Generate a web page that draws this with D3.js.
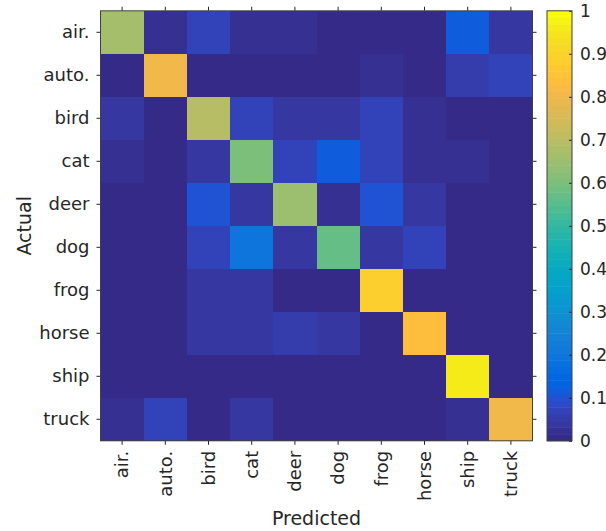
<!DOCTYPE html>
<html>
<head>
<meta charset="utf-8">
<script src="https://cdn.jsdelivr.net/npm/d3@7"></script>
<style>
  body { margin: 0; background: #fff; }
  text { font-family: "DejaVu Sans", sans-serif; fill: #262626; }
</style>
</head>
<body>
<div id="chart"></div>
<script>
// class labels (rows = actual, columns = predicted)
var classes = ["air.", "auto.", "bird", "cat", "deer", "dog", "frog", "horse", "ship", "truck"];

// normalised confusion matrix, one array per actual class
var rowAir   = [0.664, 0.020, 0.065, 0.030, 0.030, 0.010, 0.010, 0.010, 0.120, 0.035];
var rowAuto  = [0.005, 0.805, 0.005, 0.005, 0.005, 0.005, 0.025, 0.010, 0.055, 0.070];
var rowBird  = [0.040, 0.005, 0.695, 0.070, 0.040, 0.040, 0.070, 0.030, 0.010, 0.005];
var rowCat   = [0.030, 0.005, 0.045, 0.600, 0.070, 0.120, 0.070, 0.030, 0.025, 0.005];
var rowDeer  = [0.005, 0.005, 0.100, 0.045, 0.650, 0.030, 0.100, 0.040, 0.005, 0.005];
var rowDog   = [0.005, 0.005, 0.065, 0.190, 0.040, 0.570, 0.045, 0.065, 0.005, 0.005];
var rowFrog  = [0.005, 0.005, 0.040, 0.040, 0.010, 0.010, 0.885, 0.005, 0.005, 0.005];
var rowHorse = [0.005, 0.005, 0.035, 0.035, 0.055, 0.045, 0.005, 0.835, 0.005, 0.005];
var rowShip  = [0.010, 0.010, 0.005, 0.005, 0.005, 0.005, 0.005, 0.005, 0.960, 0.005];
var rowTruck = [0.030, 0.070, 0.005, 0.035, 0.005, 0.005, 0.005, 0.005, 0.030, 0.800];

var matrix = [rowAir, rowAuto, rowBird, rowCat, rowDeer, rowDog, rowFrog, rowHorse, rowShip, rowTruck];

// colorbar ticks
var cbTicks = [0, 0.1, 0.2, 0.3, 0.4, 0.5, 0.6, 0.7, 0.8, 0.9, 1];

// matlab parula, 64 entries
var parula = [
 [0.2081,0.1663,0.5292],[0.2116,0.1898,0.5777],[0.2123,0.2138,0.6270],[0.2081,0.2386,0.6771],
 [0.1959,0.2645,0.7279],[0.1707,0.2919,0.7792],[0.1253,0.3242,0.8303],[0.0591,0.3598,0.8683],
 [0.0117,0.3875,0.8820],[0.0060,0.4086,0.8828],[0.0165,0.4266,0.8786],[0.0329,0.4430,0.8720],
 [0.0498,0.4586,0.8641],[0.0629,0.4737,0.8554],[0.0723,0.4887,0.8467],[0.0779,0.5040,0.8384],
 [0.0793,0.5200,0.8312],[0.0749,0.5375,0.8263],[0.0641,0.5570,0.8240],[0.0488,0.5772,0.8228],
 [0.0343,0.5966,0.8199],[0.0265,0.6137,0.8135],[0.0239,0.6287,0.8038],[0.0231,0.6418,0.7913],
 [0.0228,0.6535,0.7768],[0.0267,0.6642,0.7607],[0.0384,0.6743,0.7436],[0.0590,0.6838,0.7254],
 [0.0843,0.6928,0.7062],[0.1133,0.7015,0.6859],[0.1453,0.7098,0.6646],[0.1801,0.7177,0.6424],
 [0.2178,0.7250,0.6193],[0.2586,0.7317,0.5954],[0.3022,0.7376,0.5712],[0.3482,0.7424,0.5473],
 [0.3953,0.7459,0.5244],[0.4420,0.7481,0.5033],[0.4871,0.7491,0.4840],[0.5300,0.7491,0.4661],
 [0.5709,0.7485,0.4494],[0.6099,0.7473,0.4337],[0.6473,0.7456,0.4188],[0.6834,0.7435,0.4044],
 [0.7184,0.7411,0.3905],[0.7525,0.7384,0.3768],[0.7858,0.7356,0.3633],[0.8185,0.7327,0.3498],
 [0.8507,0.7299,0.3360],[0.8824,0.7274,0.3217],[0.9139,0.7258,0.3063],[0.9450,0.7261,0.2886],
 [0.9739,0.7314,0.2666],[0.9938,0.7455,0.2403],[0.9990,0.7653,0.2164],[0.9955,0.7861,0.1967],
 [0.9880,0.8066,0.1794],[0.9789,0.8271,0.1633],[0.9697,0.8481,0.1475],[0.9626,0.8705,0.1309],
 [0.9589,0.8949,0.1132],[0.9598,0.9218,0.0948],[0.9661,0.9514,0.0755],[0.9763,0.9831,0.0538]
].map(function(c) { return d3.rgb(c[0]*255, c[1]*255, c[2]*255).formatHex(); });

var W = 606, H = 531;
var plot = {left: 100.5, right: 532.5, top: 10.8, bottom: 440.8};
var cb = {left: 547, right: 572};

var color = d3.scaleQuantize().domain([0, 1]).range(parula);

var x = d3.scaleBand().domain(classes).range([plot.left, plot.right]);
var y = d3.scaleBand().domain(classes).range([plot.top, plot.bottom]);

var svg = d3.select("#chart").append("svg")
    .attr("width", W)
    .attr("height", H);

// cells
var cells = [];
matrix.forEach(function(row, i) {
  row.forEach(function(v, j) {
    cells.push({actual: classes[i], predicted: classes[j], value: v});
  });
});

svg.append("g").selectAll("rect")
    .data(cells)
  .enter().append("rect")
    .attr("x", function(d) { return x(d.predicted); })
    .attr("y", function(d) { return y(d.actual); })
    .attr("width", x.bandwidth() + 0.5)
    .attr("height", y.bandwidth() + 0.5)
    .attr("shape-rendering", "crispEdges")
    .style("fill", function(d) { return color(d.value); });

// axes on all four sides, ticks outward
var tickLen = 4;
function styleAxis(g) {
  g.select(".domain").remove();
  g.selectAll(".tick line").attr("stroke", "#262626");
}

var xb = svg.append("g")
    .attr("transform", "translate(0," + plot.bottom + ")")
    .call(d3.axisBottom(x).tickSize(tickLen).tickPadding(6));
styleAxis(xb);
xb.selectAll(".tick text")
    .attr("transform", "rotate(-90)")
    .attr("x", -10)
    .attr("y", 0)
    .attr("dy", "0.35em")
    .style("text-anchor", "end")
    .style("font-size", "18px");

var xt = svg.append("g")
    .attr("transform", "translate(0," + plot.top + ")")
    .call(d3.axisTop(x).tickSize(tickLen).tickFormat(""));
styleAxis(xt);

var yl = svg.append("g")
    .attr("transform", "translate(" + plot.left + ",0)")
    .call(d3.axisLeft(y).tickSize(tickLen).tickPadding(7));
styleAxis(yl);
yl.selectAll(".tick text").style("font-size", "18px");

var yr = svg.append("g")
    .attr("transform", "translate(" + plot.right + ",0)")
    .call(d3.axisRight(y).tickSize(tickLen).tickFormat(""));
styleAxis(yr);

// box
svg.append("rect")
    .attr("x", plot.left)
    .attr("y", plot.top)
    .attr("width", plot.right - plot.left)
    .attr("height", plot.bottom - plot.top)
    .attr("fill", "none")
    .attr("stroke", "#404040")
    .attr("stroke-width", 1);

// axis titles
svg.append("text")
    .attr("x", (plot.left + plot.right) / 2)
    .attr("y", 525)
    .style("text-anchor", "middle")
    .style("font-size", "19px")
    .text("Predicted");

svg.append("text")
    .attr("transform", "translate(31," + ((plot.top + plot.bottom) / 2) + ") rotate(-90)")
    .style("text-anchor", "middle")
    .style("font-size", "19px")
    .text("Actual");

// colorbar
var cbY = d3.scaleLinear().domain([0, 1]).range([plot.bottom, plot.top]);
var cbStops = d3.range(parula.length).map(function(k) { return k / parula.length; });

svg.append("g").selectAll("rect")
    .data(cbStops)
  .enter().append("rect")
    .attr("x", cb.left)
    .attr("width", cb.right - cb.left)
    .attr("y", function(d) { return cbY(d + 1 / parula.length); })
    .attr("height", function(d) { return cbY(d) - cbY(d + 1 / parula.length) + 0.5; })
    .style("fill", function(d) { return color(d + 0.5 / parula.length); });

var cbAxis = svg.append("g")
    .attr("transform", "translate(" + cb.right + ",0)")
    .call(d3.axisRight(cbY).tickValues(cbTicks).tickSize(0).tickPadding(8)
      .tickFormat(function(d) { return d3.format("")(+d.toFixed(1)); }));
cbAxis.select(".domain").remove();
cbAxis.selectAll(".tick text").style("font-size", "17px");
cbAxis.selectAll(".tick").append("line")
    .attr("x1", -3)
    .attr("x2", 0)
    .attr("stroke", "#262626");

svg.append("rect")
    .attr("x", cb.left)
    .attr("y", plot.top)
    .attr("width", cb.right - cb.left)
    .attr("height", plot.bottom - plot.top)
    .attr("fill", "none")
    .attr("stroke", "#404040")
    .attr("stroke-width", 1);
</script>
</body>
</html>
